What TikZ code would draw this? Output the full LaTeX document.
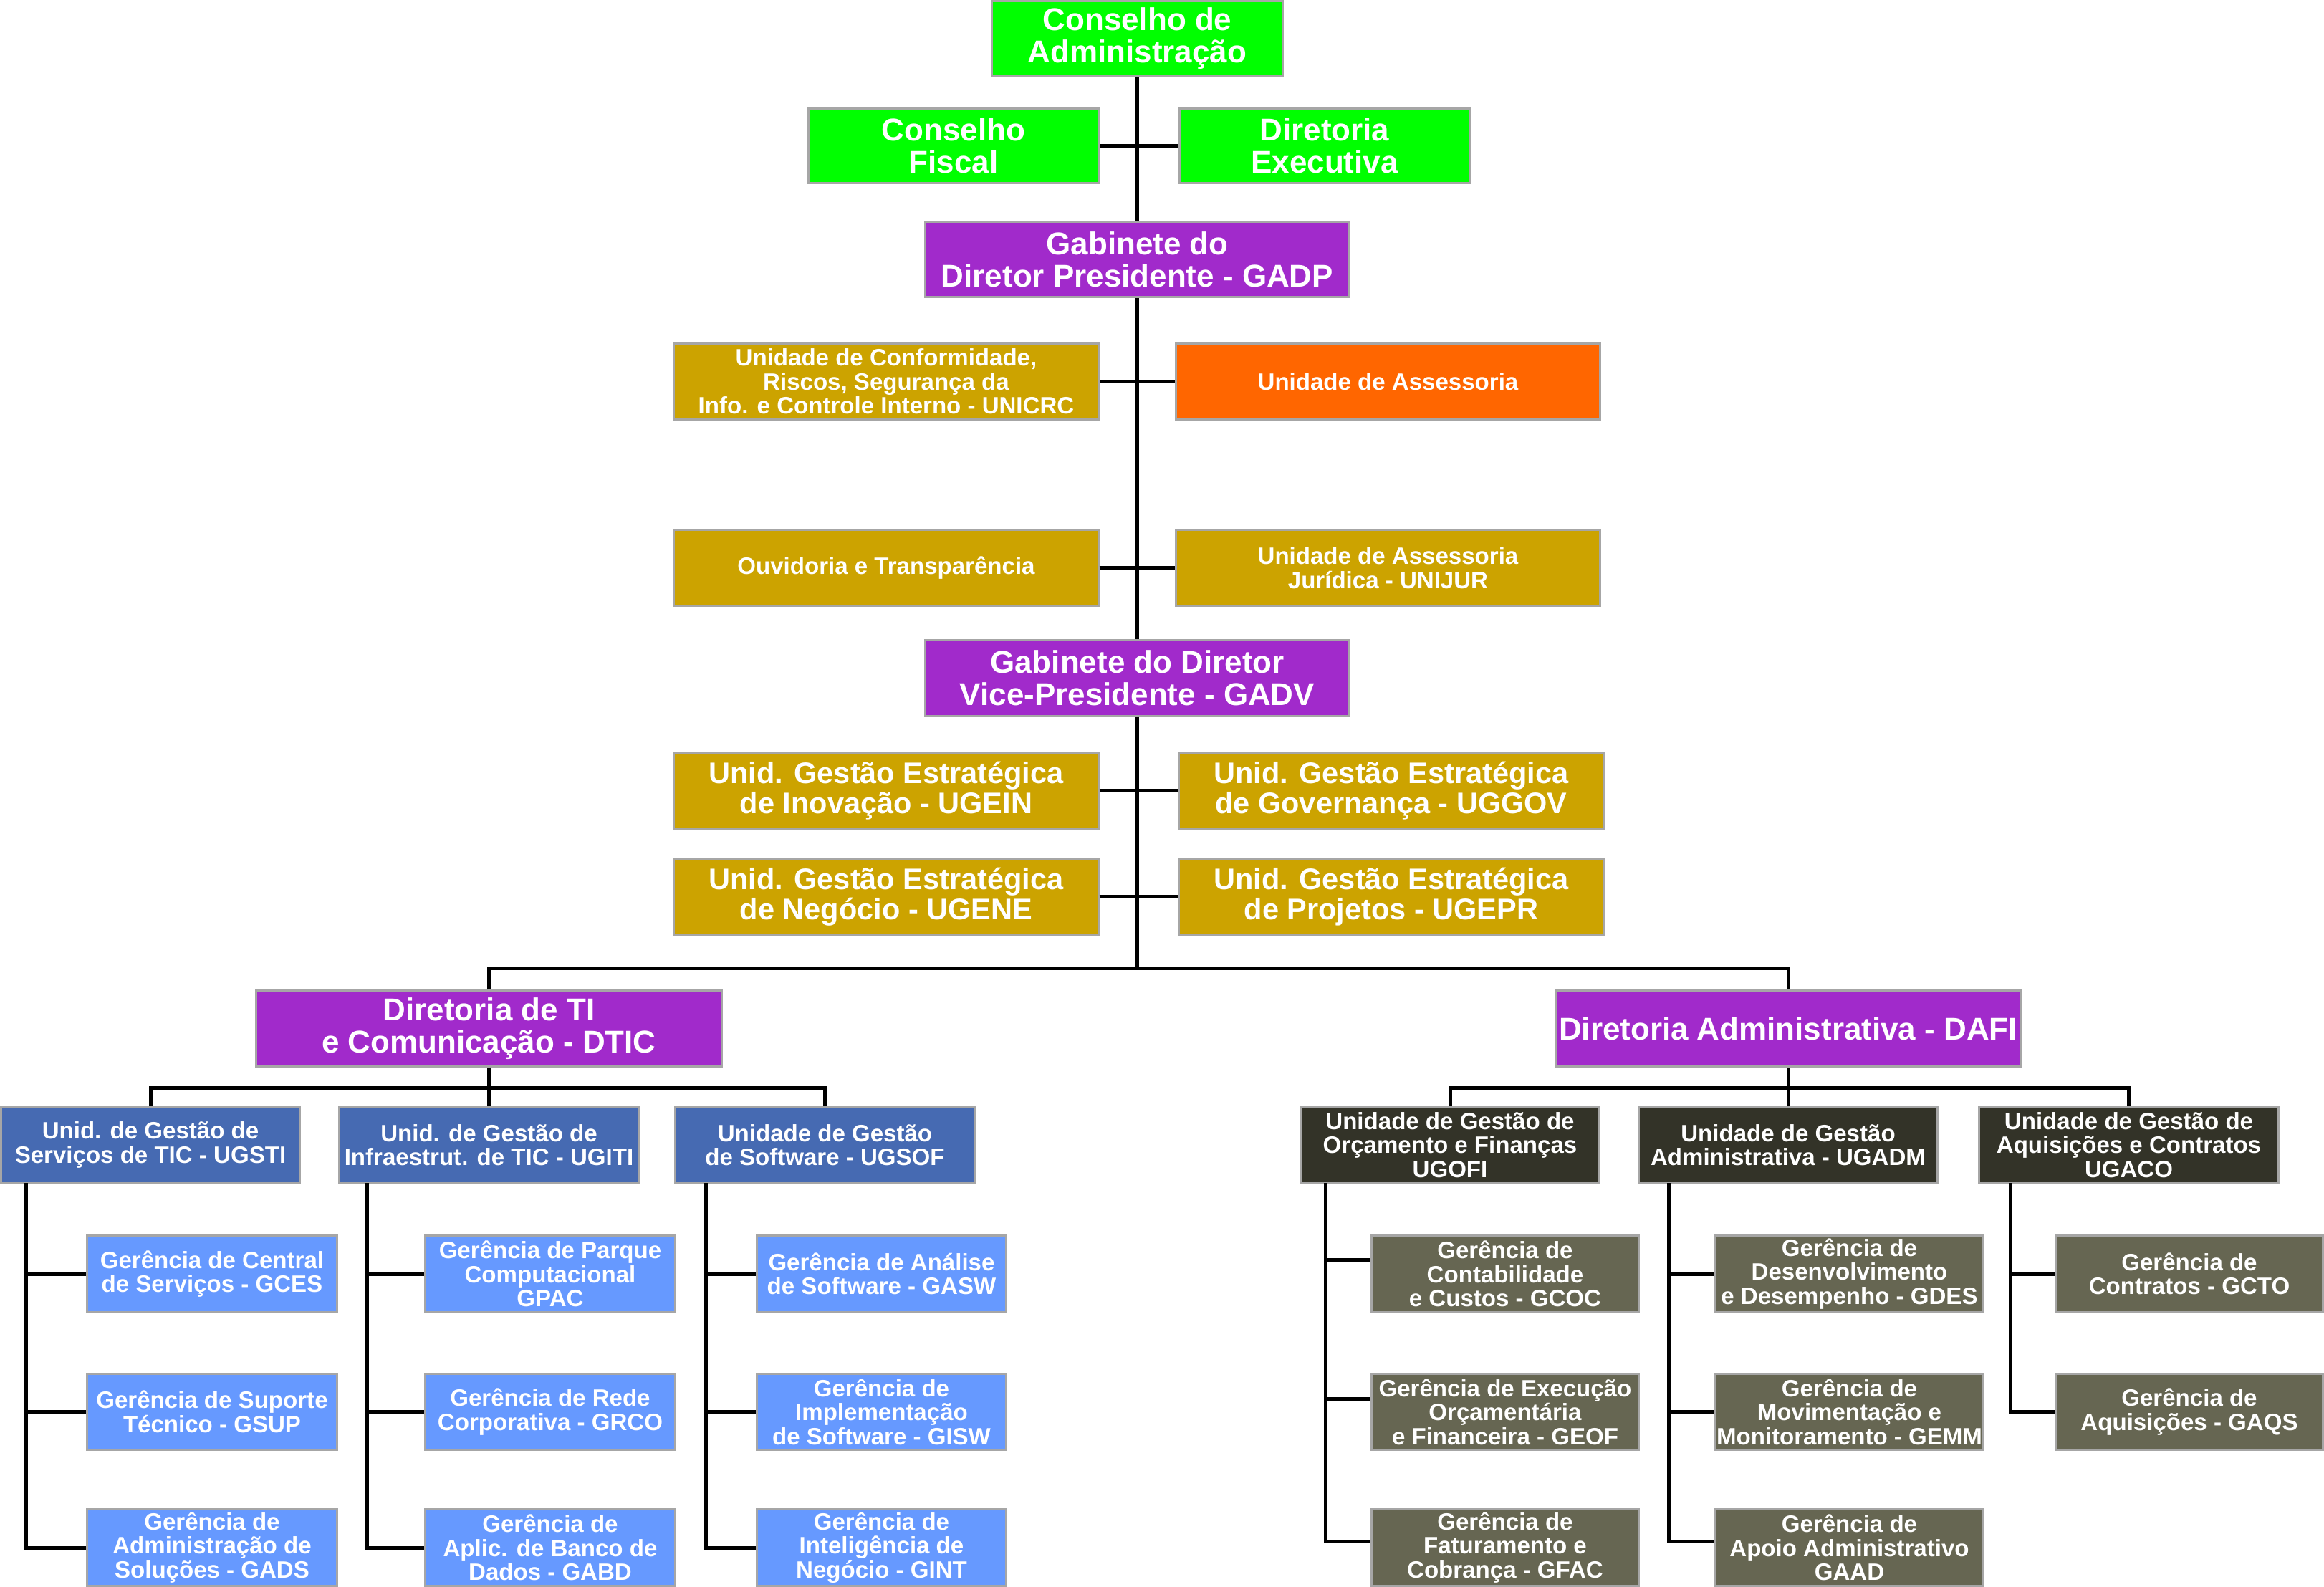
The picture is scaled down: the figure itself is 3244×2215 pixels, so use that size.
\documentclass[tikz,border=0pt]{standalone}
\usepackage{fontspec}
\setmainfont{Liberation Sans}
\definecolor{cgreen}{HTML}{00FF00}
\definecolor{cpurple}{HTML}{A12ACB}
\definecolor{cgold}{HTML}{CCA300}
\definecolor{corange}{HTML}{FF6600}
\definecolor{cblue}{HTML}{466AB2}
\definecolor{clblue}{HTML}{6699FF}
\definecolor{cdark}{HTML}{333328}
\definecolor{colive}{HTML}{666652}
\definecolor{cborder}{HTML}{A6A6A6}
\tikzset{
  box/.style={draw=cborder, line width=0.03cm, text=white, align=center, inner sep=0pt},
  big/.style={font=\bfseries\fontsize{12.5}{12.9}\selectfont},
  mid/.style={font=\bfseries\fontsize{11.8}{11.9}\selectfont},
  small/.style={font=\bfseries\fontsize{9.4}{9.5}\selectfont},
  topbox/.style={box, big, fill=cgreen, minimum width=4.05cm, minimum height=1.04cm},
  gab/.style={box, big, fill=cpurple, minimum width=5.91cm, minimum height=1.05cm},
  staff/.style={box, fill=cgold, minimum width=5.92cm, minimum height=1.05cm},
  dir/.style={box, big, fill=cpurple, minimum width=6.49cm, minimum height=1.05cm},
  unitb/.style={box, small, fill=cblue, minimum width=4.17cm, minimum height=1.06cm},
  subb/.style={box, small, fill=clblue, minimum width=3.48cm, minimum height=1.06cm},
  unitd/.style={box, small, fill=cdark, minimum width=4.17cm, minimum height=1.06cm},
  subd/.style={box, small, fill=colive, minimum width=3.73cm, minimum height=1.06cm},
  conn/.style={line width=0.05cm, black}
}
\begin{document}
\begin{tikzpicture}[x=0.01cm, y=-0.01cm]
\useasboundingbox (0,0) rectangle (3244,2215);
\fill[white] (0,0) rectangle (3244,2215);

% top
\node[topbox] (CA) at (1587.5,53.5) {Conselho de\\Administração};
\node[topbox] (CF) at (1331,203.5) {Conselho\\Fiscal};
\node[topbox] (DE) at (1849,203.5) {Diretoria\\Executiva};
\node[gab] (GADP) at (1587.5,362) {Gabinete do\\Diretor Presidente - GADP};
\node[staff, small] (UNICRC) at (1237,532.5) {Unidade de Conformidade,\\Riscos, Segurança da\\Info. e Controle Interno - UNICRC};
\node[staff, small, fill=corange] (UA) at (1937.5,532.5) {Unidade de Assessoria};
\node[staff, small] (OUV) at (1237,792.5) {Ouvidoria e Transparência};
\node[staff, small] (UNIJUR) at (1937.5,792.5) {Unidade de Assessoria\\Jurídica - UNIJUR};
\node[gab] (GADV) at (1587.5,946.5) {Gabinete do Diretor\\Vice-Presidente - GADV};
\node[staff, mid] (UGEIN) at (1237,1103.5) {Unid. Gestão Estratégica\\de Inovação - UGEIN};
\node[staff, mid] (UGGOV) at (1942,1103.5) {Unid. Gestão Estratégica\\de Governança - UGGOV};
\node[staff, mid] (UGENE) at (1237,1251.5) {Unid. Gestão Estratégica\\de Negócio - UGENE};
\node[staff, mid] (UGEPR) at (1942,1251.5) {Unid. Gestão Estratégica\\de Projetos - UGEPR};

% directorates
\node[dir] (DTIC) at (682.5,1435.5) {Diretoria de TI\\e Comunicação - DTIC};
\node[dir] (DAFI) at (2496,1435.5) {Diretoria Administrativa - DAFI};

% DTIC units
\node[unitb] (UGSTI) at (210,1598) {Unid. de Gestão de\\Serviços de TIC - UGSTI};
\node[unitb] (UGITI) at (682.5,1598) {Unid. de Gestão de\\Infraestrut. de TIC - UGITI};
\node[unitb] (UGSOF) at (1151.5,1598) {Unidade de Gestão\\de Software - UGSOF};

\node[subb] (GCES) at (296,1778) {Gerência de Central\\de Serviços - GCES};
\node[subb] (GSUP) at (296,1970.5) {Gerência de Suporte\\Técnico - GSUP};
\node[subb] (GADS) at (296,2160) {Gerência de\\Administração de\\Soluções - GADS};
\node[subb] (GPAC) at (768,1778) {Gerência de Parque\\Computacional\\GPAC};
\node[subb] (GRCO) at (768,1970.5) {Gerência de Rede\\Corporativa - GRCO};
\node[subb] (GABD) at (768,2160) {Gerência de\\Aplic. de Banco de\\Dados - GABD};
\node[subb] (GASW) at (1230.5,1778) {Gerência de Análise\\de Software - GASW};
\node[subb] (GISW) at (1230.5,1970.5) {Gerência de\\Implementação\\de Software - GISW};
\node[subb] (GINT) at (1230.5,2160) {Gerência de\\Inteligência de\\Negócio - GINT};

% DAFI units
\node[unitd] (UGOFI) at (2024,1598) {Unidade de Gestão de\\Orçamento e Finanças\\UGOFI};
\node[unitd] (UGADM) at (2496,1598) {Unidade de Gestão\\Administrativa - UGADM};
\node[unitd] (UGACO) at (2971.5,1598) {Unidade de Gestão de\\Aquisições e Contratos\\UGACO};

\node[subd] (GCOC) at (2101,1778) {Gerência de\\Contabilidade\\e Custos - GCOC};
\node[subd] (GEOF) at (2101,1970.5) {Gerência de Execução\\Orçamentária\\e Financeira - GEOF};
\node[subd] (GFAC) at (2101,2160) {Gerência de\\Faturamento e\\Cobrança - GFAC};
\node[subd] (GDES) at (2581.5,1778) {Gerência de\\Desenvolvimento\\e Desempenho - GDES};
\node[subd] (GEMM) at (2581.5,1970.5) {Gerência de\\Movimentação e\\Monitoramento - GEMM};
\node[subd] (GAAD) at (2581.5,2160) {Gerência de\\Apoio Administrativo\\GAAD};
\node[subd] (GCTO) at (3056,1778) {Gerência de\\Contratos - GCTO};
\node[subd] (GAQS) at (3056,1970.5) {Gerência de\\Aquisições - GAQS};

% coordinates
\coordinate (bus) at (1587.5,1351);
\coordinate (tbus) at (682.5,1518);
\coordinate (abus) at (2496,1518);
\coordinate (s1) at (36,1651);
\coordinate (s2) at (512,1651);
\coordinate (s3) at (985,1651);
\coordinate (r1) at (1850,1651);
\coordinate (r2) at (2329,1651);
\coordinate (r3) at (2806,1651);
\coordinate (pCOC) at ([yshift=0.2cm]GCOC.west);
\coordinate (pEOF) at ([yshift=0.18cm]GEOF.west);
\coordinate (pFAC) at ([yshift=0.09cm]GFAC.west);
\coordinate (pAAD) at ([yshift=0.09cm]GAAD.west);

% connectors: top
\draw[conn] (CA.south) -- (GADP.north);
\draw[conn] (CF.east) -- (DE.west);
\draw[conn] (GADP.south) -- (GADV.north);
\draw[conn] (UNICRC.east) -- (UA.west);
\draw[conn] (OUV.east) -- (UNIJUR.west);
\draw[conn] (GADV.south) -- (bus);
\draw[conn] (UGEIN.east) -- (UGGOV.west);
\draw[conn] (UGENE.east) -- (UGEPR.west);
\draw[conn] (DTIC.north) -- (DTIC.north |- bus) -- (DAFI.north |- bus) -- (DAFI.north);

% DTIC
\draw[conn] (DTIC.south) -- (UGITI.north);
\draw[conn] (UGSTI.north) -- (UGSTI.north |- tbus) -- (UGSOF.north |- tbus) -- (UGSOF.north);
\draw[conn] (s1) |- (GADS.west);
\draw[conn] (s1 |- GCES.west) -- (GCES.west);
\draw[conn] (s1 |- GSUP.west) -- (GSUP.west);
\draw[conn] (s2) |- (GABD.west);
\draw[conn] (s2 |- GPAC.west) -- (GPAC.west);
\draw[conn] (s2 |- GRCO.west) -- (GRCO.west);
\draw[conn] (s3) |- (GINT.west);
\draw[conn] (s3 |- GASW.west) -- (GASW.west);
\draw[conn] (s3 |- GISW.west) -- (GISW.west);

% DAFI
\draw[conn] (DAFI.south) -- (UGADM.north);
\draw[conn] (UGOFI.north) -- (UGOFI.north |- abus) -- (UGACO.north |- abus) -- (UGACO.north);
\draw[conn] (r1) |- (pFAC);
\draw[conn] (r1 |- pCOC) -- (pCOC);
\draw[conn] (r1 |- pEOF) -- (pEOF);
\draw[conn] (r2) |- (pAAD);
\draw[conn] (r2 |- GDES.west) -- (GDES.west);
\draw[conn] (r2 |- GEMM.west) -- (GEMM.west);
\draw[conn] (r3) |- (GAQS.west);
\draw[conn] (r3 |- GCTO.west) -- (GCTO.west);
\end{tikzpicture}
\end{document}
